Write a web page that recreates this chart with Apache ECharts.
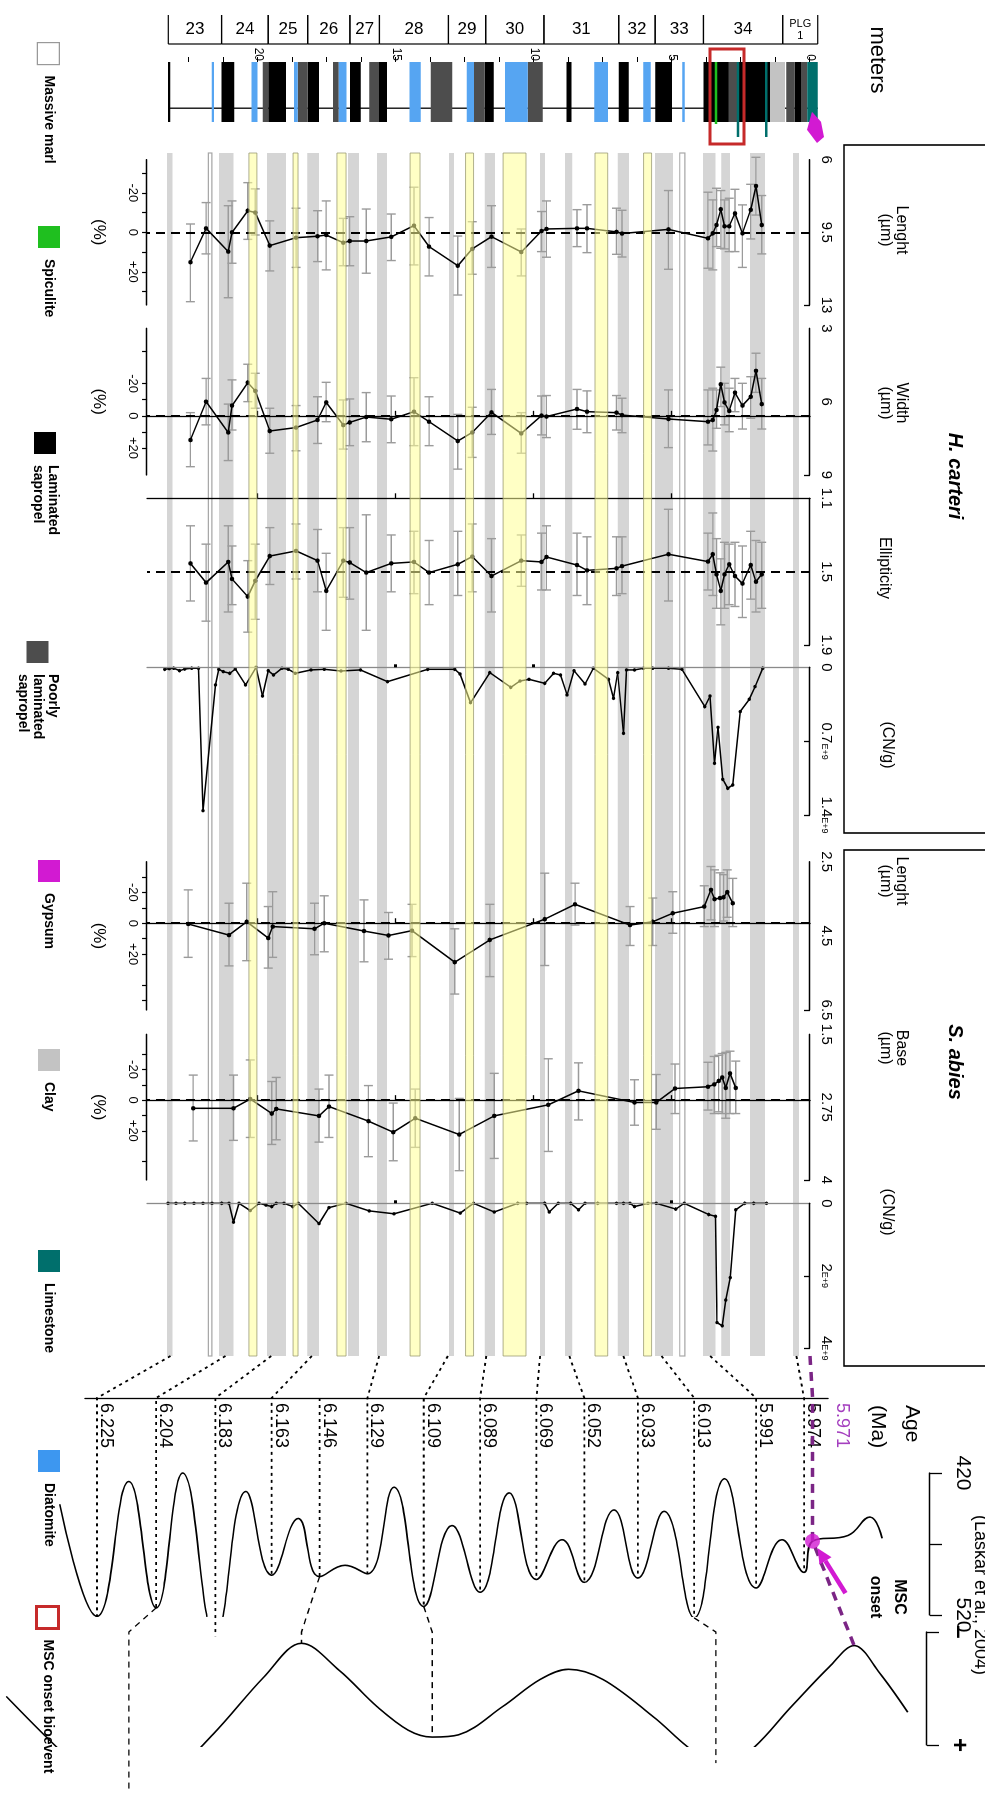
<!DOCTYPE html>
<html>
<head>
<meta charset="utf-8">
<title>H. carteri and S. abies through the pre-MSC succession</title>
<script src="https://cdn.jsdelivr.net/npm/echarts@6/dist/echarts.min.js"></script>
<style>
html, body { margin: 0; padding: 0; background: #fff; }
body { width: 985px; height: 1798px; overflow: hidden; position: relative; }
/* the log is laid out with depth running down the page, then turned a quarter turn */
#chart { position: absolute; left: 0; top: 0; width: 1798px; height: 985px;
         transform-origin: 0 0; transform: translate(985px, 0) rotate(90deg); }
</style>
</head>
<body>
<div id="chart"></div>
<script>
// ---------------- lithological log (depth in metres) ----------------
const CYCLE_NAMES = ['23', '24', '25', '26', '27', '28', '29', '30', '31', '32', '33', '34', 'PLG\n1'];
const CYCLE_BOUNDS = [23.25, 21.32, 19.63, 18.20, 16.67, 15.60, 13.10, 11.75, 9.64, 6.93, 5.61, 3.86, 0.99, -0.28];
const DEPTH_TICKS = [0, 1.25, 2.5, 3.75, 5, 6.25, 7.5, 8.75, 10, 11.25, 12.5, 13.75, 15, 16.25, 17.5, 18.75, 20, 21.25, 22.5];
const DEPTH_LABELS = [0, 5, 10, 15, 20];
const PANEL_DEPTH_TICKS = [5, 10, 15, 20];

const MASSIVE_MARL = [[-0.28, 23.26]];
const LAMINATED_SAPROPEL = [[23.18, 23.26], [20.86, 21.32], [18.99, 19.63], [17.79, 18.20], [16.28, 16.67], [15.33, 15.62],
  [11.46, 11.78], [8.64, 8.82], [6.57, 6.93], [5.00, 5.61], [1.45, 3.86], [0.33, 0.56]];
const POORLY_LAMINATED = [[19.63, 19.83], [18.20, 18.56], [17.07, 17.28], [15.62, 15.97], [12.96, 13.74], [11.78, 12.17],
  [9.68, 10.23], [2.61, 2.95], [0.56, 0.86], [0.10, 0.33]];
const DIATOMITE = [[21.59, 21.68], [20.02, 20.24], [18.56, 18.70], [16.79, 17.07], [14.10, 14.51], [12.17, 12.44],
  [10.23, 11.05], [7.32, 7.82], [5.77, 6.04], [4.54, 4.63]];
const CLAY = [[0.91, 1.45]];
const LIMESTONE = [[2.56, 2.65], [1.54, 1.63], [-0.28, 0.10]];
const SPICULITE = [[3.36, 3.45]];
const GYPSUM = [[-0.51, 0.11]];
const MSC_ONSET_INTERVAL = [[2.39, 3.62]];

// sapropel / diatomite correlation bands across the panels
const GRAY_BANDS = [[23.10, 23.30], [20.89, 21.41], [18.99, 19.67], [17.79, 18.22], [16.34, 16.74], [15.33, 15.69],
  [12.90, 13.08], [11.41, 11.78], [9.60, 9.78], [8.61, 8.88], [6.56, 6.97], [4.96, 5.62], [3.42, 3.88],
  [2.90, 3.22], [1.63, 2.17], [0.40, 0.62]];
const YELLOW_BANDS = [[20.04, 20.33], [18.55, 18.73], [16.81, 17.14], [14.13, 14.49], [12.19, 12.48], [10.29, 11.12],
  [7.33, 7.79], [5.74, 6.03]];
const THIN_BANDS = [[21.67, 21.80], [4.53, 4.72]];

// ---------------- H. carteri ----------------
const H_DEPTH = [22.45, 21.88, 21.08, 20.94, 20.37, 20.10, 19.57, 18.62, 17.84, 17.53, 16.91, 16.68, 16.08, 15.17,
  14.35, 13.80, 12.76, 12.24, 11.54, 10.46, 9.73, 9.55, 8.44, 8.08, 7.01, 6.81, 5.13, 3.70, 3.52, 3.39, 3.23,
  3.10, 2.93, 2.72, 2.45, 2.15, 1.96, 1.75];
const H_LENGTH = [10.94, 9.31, 10.43, 9.50, 8.46, 8.55, 10.14, 9.76, 9.69, 9.63, 10.00, 9.92, 9.92, 9.72, 9.18, 10.19,
  11.11, 10.30, 9.71, 10.45, 9.44, 9.34, 9.31, 9.31, 9.48, 9.56, 9.36, 9.79, 9.55, 9.15, 8.39, 9.21, 9.21, 8.59,
  9.55, 8.42, 7.27, 9.15];
const H_LENGTH_LO = [9.10, 8.07, 8.22, 7.99, 7.11, 7.41, 8.95, 8.34, 8.46, 7.99, 8.83, 8.75, 8.38, 8.62, 7.33, 8.79,
  9.68, 8.99, 8.22, 9.34, 8.50, 7.99, 8.41, 8.17, 8.34, 8.44, 7.49, 7.57, 7.94, 7.38, 7.49, 7.94, 7.86, 7.43,
  8.18, 7.19, 5.89, 7.73];
const H_LENGTH_HI = [12.84, 10.54, 12.65, 10.99, 9.84, 9.63, 11.36, 11.19, 10.91, 11.31, 11.11, 11.11, 11.47, 10.86,
  11.07, 11.60, 12.52, 11.52, 11.19, 11.60, 10.43, 10.70, 10.19, 10.48, 10.56, 10.69, 11.28, 11.23, 11.31, 10.19,
  10.27, 10.30, 10.43, 10.43, 11.19, 9.82, 8.67, 10.54];
const H_LENGTH_MEAN = 9.5;

const H_WIDTH = [7.57, 6.00, 7.26, 6.16, 5.22, 5.56, 7.20, 7.06, 6.75, 6.03, 6.96, 6.85, 6.63, 6.72, 6.41, 6.82, 7.61,
  7.26, 6.44, 7.30, 6.57, 6.61, 6.30, 6.41, 6.45, 6.55, 6.71, 6.82, 6.75, 6.34, 5.29, 6.03, 6.38, 5.63, 6.16, 5.80,
  4.74, 6.10];
const H_WIDTH_LO = [6.45, 5.05, 6.10, 5.11, 4.47, 4.84, 6.27, 6.16, 5.80, 5.21, 5.93, 5.89, 5.63, 5.77, 5.02, 5.80,
  6.52, 6.23, 5.50, 6.45, 5.77, 5.75, 5.50, 5.56, 5.75, 5.86, 5.52, 5.52, 5.45, 5.52, 4.59, 5.25, 5.45, 5.05, 5.25,
  4.98, 4.02, 5.05];
const H_WIDTH_HI = [8.66, 6.95, 8.41, 7.16, 6.00, 6.27, 8.11, 8.01, 7.71, 6.82, 7.94, 7.80, 7.64, 7.68, 7.80, 7.80,
  8.76, 8.28, 7.34, 8.11, 7.36, 7.47, 7.13, 7.27, 7.16, 7.27, 7.88, 7.77, 8.02, 7.09, 6.20, 6.95, 7.23, 6.41, 7.12,
  6.68, 5.62, 7.12];
const H_WIDTH_MEAN = 6.58;

const H_ELLIPTICITY = [1.455, 1.56, 1.447, 1.54, 1.636, 1.55, 1.415, 1.387, 1.44, 1.605, 1.44, 1.45, 1.505, 1.455,
  1.447, 1.505, 1.46, 1.418, 1.524, 1.44, 1.447, 1.42, 1.464, 1.493, 1.482, 1.47, 1.405, 1.445, 1.405, 1.515, 1.605,
  1.515, 1.46, 1.524, 1.565, 1.464, 1.555, 1.515];
const H_ELLIPTICITY_LO = [1.25, 1.35, 1.25, 1.36, 1.44, 1.35, 1.26, 1.24, 1.27, 1.40, 1.26, 1.26, 1.19, 1.30, 1.28,
  1.33, 1.28, 1.24, 1.32, 1.30, 1.29, 1.25, 1.29, 1.31, 1.31, 1.31, 1.16, 1.29, 1.18, 1.32, 1.43, 1.34, 1.35, 1.34,
  1.36, 1.28, 1.33, 1.34];
const H_ELLIPTICITY_HI = [1.66, 1.77, 1.72, 1.68, 1.83, 1.76, 1.57, 1.54, 1.61, 1.82, 1.64, 1.65, 1.82, 1.61, 1.62,
  1.68, 1.63, 1.61, 1.72, 1.58, 1.60, 1.60, 1.63, 1.68, 1.63, 1.62, 1.66, 1.60, 1.63, 1.70, 1.79, 1.70, 1.68, 1.69,
  1.75, 1.65, 1.72, 1.70];
const H_ELLIPTICITY_MEAN = 1.5;

// coccoliths per gram, in units of 1E+9
const H_CN_DEPTH = [23.38, 23.22, 23.05, 22.84, 22.65, 22.40, 22.16, 21.99, 21.54, 21.42, 21.26, 21.02, 20.82, 20.45,
  20.07, 19.84, 19.63, 19.44, 19.13, 18.90, 18.65, 18.08, 17.60, 16.99, 16.29, 15.31, 13.85, 12.87, 12.68, 12.30,
  11.60, 10.84, 10.51, 10.18, 9.61, 9.29, 9.04, 8.80, 8.55, 8.15, 7.85, 7.30, 7.12, 6.97, 6.76, 6.65, 6.36, 6.03,
  5.70, 5.13, 4.64, 3.81, 3.62, 3.46, 3.33, 3.16, 2.98, 2.80, 2.53, 2.20, 1.99, 1.71];
const H_CN = [0.019, 0.013, 0.009, 0.032, 0.016, 0.009, 0.009, 1.359, 0.167, 0.019, 0.041, 0.057, 0.016, 0.167, 0.000,
  0.272, 0.032, 0.073, 0.009, 0.019, 0.057, 0.025, 0.019, 0.035, 0.025, 0.136, 0.019, 0.019, 0.063, 0.335, 0.051,
  0.190, 0.130, 0.114, 0.152, 0.057, 0.073, 0.262, 0.032, 0.158, 0.009, 0.114, 0.294, 0.051, 0.626, 0.025, 0.025,
  0.009, 0.009, 0.009, 0.019, 0.373, 0.272, 0.910, 0.569, 1.062, 1.147, 1.115, 0.420, 0.303, 0.183, 0.009];

// ---------------- S. abies ----------------
const S_LENGTH_DEPTH = [22.53, 21.05, 20.41, 19.63, 19.47, 17.95, 17.60, 16.16, 15.27, 14.42, 12.87, 11.60, 9.61,
  8.51, 6.52, 5.70, 4.97, 3.83, 3.59, 3.46, 3.26, 3.13, 3.00, 2.80];
const S_LENGTH = [4.18, 4.48, 4.12, 4.56, 4.25, 4.31, 4.16, 4.37, 4.49, 4.36, 5.21, 4.61, 4.05, 3.65, 4.21, 4.12, 3.89,
  3.71, 3.26, 3.51, 3.48, 3.46, 3.32, 3.62];
const S_LENGTH_LO = [3.26, 3.62, 3.08, 3.71, 3.31, 3.62, 3.42, 3.53, 3.87, 3.65, 4.31, 3.65, 2.81, 3.08, 3.71, 3.48,
  3.31, 3.15, 2.63, 2.72, 2.80, 2.85, 2.72, 2.95];
const S_LENGTH_HI = [5.08, 5.31, 5.17, 5.37, 5.08, 5.01, 4.93, 5.20, 5.13, 5.06, 6.07, 5.60, 5.30, 4.21, 4.76, 4.76,
  4.43, 4.25, 4.07, 4.25, 4.15, 4.10, 4.00, 4.25];
const S_LENGTH_MEAN = 4.16;

const S_BASE_DEPTH = [22.35, 20.89, 20.28, 19.50, 19.34, 17.79, 17.43, 16.00, 15.10, 14.30, 12.71, 11.44, 9.48, 8.39,
  6.36, 5.57, 4.89, 3.70, 3.47, 3.31, 3.18, 3.05, 2.90, 2.69];
const S_BASE = [2.77, 2.77, 2.61, 2.86, 2.78, 2.90, 2.74, 2.99, 3.18, 2.94, 3.22, 2.90, 2.71, 2.47, 2.67, 2.67, 2.43,
  2.40, 2.36, 2.30, 2.24, 2.42, 2.17, 2.42];
const S_BASE_LO = [2.20, 2.20, 1.94, 2.31, 2.24, 2.44, 2.20, 2.38, 2.68, 2.44, 2.60, 2.17, 1.92, 1.99, 2.28, 2.19,
  2.01, 1.98, 1.88, 1.86, 1.83, 1.81, 1.79, 1.96];
const S_BASE_HI = [3.33, 3.32, 3.27, 3.39, 3.31, 3.35, 3.27, 3.60, 3.67, 3.44, 3.84, 3.63, 3.51, 2.97, 3.06, 3.13,
  2.86, 2.80, 2.86, 2.83, 2.86, 2.94, 2.86, 2.86];
const S_BASE_MEAN = 2.63;

const S_CN_DEPTH = [23.26, 22.97, 22.65, 22.32, 21.99, 21.67, 21.31, 21.05, 20.89, 20.69, 20.28, 19.96, 19.71, 19.50,
  19.34, 19.06, 18.74, 18.54, 17.79, 17.43, 16.81, 15.97, 15.07, 13.69, 12.67, 12.19, 11.44, 10.59, 10.27, 9.61,
  9.45, 9.12, 8.67, 8.39, 8.15, 7.69, 7.01, 6.76, 6.52, 6.36, 5.87, 5.57, 4.86, 4.56, 3.67, 3.42, 3.37, 3.18, 3.05,
  2.89, 2.69, 2.36, 2.04, 1.58];
const S_CN = [0, 0, 0, 0, 0, 0, 0, 0, 0.52, 0, 0.20, 0, 0.05, 0.09, 0, 0, 0.09, 0, 0.56, 0.12, 0, 0.21, 0.29, 0, 0.27,
  0, 0.24, 0, 0, 0, 0.24, 0, 0, 0.18, 0, 0, 0, 0, 0, 0.09, 0, 0, 0.16, 0, 0.31, 0.36, 3.29, 3.38, 2.67, 2.05, 0.18,
  0, 0, 0];

// ---------------- astronomical tuning ----------------
const TIE_AGES = [6.225, 6.204, 6.183, 6.163, 6.146, 6.129, 6.109, 6.089, 6.069, 6.052, 6.033, 6.013, 5.991, 5.974, 5.971];
const TIE_DEPTHS = [23.17, 21.18, 19.52, 18.05, null, 15.61, 13.12, 11.73, 9.78, 8.72, 6.76, 5.38, 3.62, 0.49, 0.0];
const MSC_ONSET_AGE = 5.971;
const MSC_ONSET_INSOLATION = 468;

// summer insolation 65°N, W/m2 (Laskar et al., 2004)
const INSOL_AGE = [6.2382, 6.225, 6.2137, 6.204, 6.1946, 6.183, 6.1721, 6.163, 6.1536, 6.146, 6.137, 6.129, 6.1196,
  6.109, 6.099, 6.089, 6.0787, 6.069, 6.0599, 6.052, 6.0415, 6.033, 6.0237, 6.013, 6.0022, 5.991, 5.9818, 5.974,
  5.971, 5.9584, 5.9506, 5.9463];
const INSOL = [442, 521, 426, 515, 420, 535, 433, 492, 452, 493, 485, 491, 430, 514, 457, 504, 434, 495, 467, 497, 446,
  494, 447, 522, 424, 501, 467, 490, 468, 464, 451, 466];
// eccentricity, relative units (− to +)
const ECC_AGE = [6.2572, 6.2371, 6.2238, 6.2137, 6.2015, 6.1836, 6.1658, 6.1524, 6.139, 6.1256, 6.1145, 6.106, 6.0967,
  6.081, 6.0677, 6.0576, 6.0454, 6.0275, 6.0141, 6.0053, 5.9941, 5.9785, 5.9651, 5.9562, 5.9473, 5.9372];
const ECC = [57, 107, 134, 140, 132, 90, 40, 10, 34, 66, 87, 93, 91, 66, 42, 33, 42, 75, 104, 116, 107, 66, 31, 12, 36, 71];
const INSOL_ECC_LINKS = [[6.204, 6.2137], [6.146, 6.1524], [6.109, 6.106], [6.013, 6.0053]];
const MSC_ECC_AGE = 5.9562;

// ---------------- drawing ----------------
const W = 1798, H = 985;
const FONT = '"Liberation Sans", Arial, Helvetica, sans-serif';
const NARROW = '"Liberation Sans Narrow", "Arial Narrow", "Liberation Sans", Arial, sans-serif';
const DEPTH_V0 = 175, PX_PER_M = 27.6, PANEL_DMAX = 24.02;
const AGE_REF = 6.225, AGE_REF_V = 888, AGE_PX = 2817;
const ageAtV = v => AGE_REF + (v - AGE_REF_V) / AGE_PX;
const PURPLE = '#7b2585', MAGENTA = '#d21ad2';

const chart = echarts.init(document.getElementById('chart'), null, { width: W, height: H, renderer: 'canvas' });
const grid = [], xAxis = [], yAxis = [], series = [];
function addGrid(left, top, width, height) {
  grid.push({ left, top, width, height, outerBoundsMode: 'none', containLabel: false });
  return grid.length - 1;
}
function depthGrid(left, width, dmin, dmax) {
  return addGrid(left, DEPTH_V0 + dmin * PX_PER_M, width, (dmax - dmin) * PX_PER_M);
}
function hidden(extra) {
  return Object.assign({ type: 'value', axisLine: { show: false }, axisTick: { show: false },
    axisLabel: { show: false }, splitLine: { show: false }, z: 6 }, extra);
}
function addX(o) { xAxis.push(o); return xAxis.length - 1; }
function addY(o) { yAxis.push(o); return yAxis.length - 1; }

// --- cycle numbers above the column
const gCyc = depthGrid(15, 29, -1.25, 23.75);
const xCyc = addX(hidden({ gridIndex: gCyc, min: 0, max: 1 }));
const yCyc = addY(hidden({ gridIndex: gCyc, min: -1.25, max: 23.75, inverse: true }));
series.push({
  type: 'custom', xAxisIndex: xCyc, yAxisIndex: yCyc, clip: false, z: 3, silent: true,
  data: CYCLE_NAMES.map((n, i) => [0, CYCLE_BOUNDS[i], CYCLE_BOUNDS[i + 1], i]),
  encode: { x: 0, y: [1, 2] },
  renderItem(p, api) {
    const cs = p.coordSys;
    const a = api.coord([0, api.value(1)])[1], b = api.coord([0, api.value(2)])[1];
    const name = CYCLE_NAMES[api.value(3)];
    const x2 = cs.x + cs.width, st = { stroke: '#000', lineWidth: 1.2 };
    const small = name.indexOf('\n') >= 0;
    return { type: 'group', children: [
      { type: 'line', shape: { x1: cs.x, y1: a, x2: x2, y2: a }, style: st },
      { type: 'line', shape: { x1: cs.x, y1: b, x2: x2, y2: b }, style: st },
      { type: 'line', shape: { x1: x2, y1: a, x2: x2, y2: b }, style: st },
      { type: 'text', x: cs.x + cs.width / 2, y: (a + b) / 2, rotation: Math.PI / 2,
        style: { text: name, fontSize: small ? 11 : 17, lineHeight: small ? 12 : 18, fontFamily: FONT, fill: '#000',
                 align: 'center', verticalAlign: 'middle' } }
    ] };
  }
});

// --- lithological column
const gLit = depthGrid(62, 60, -1.25, 23.75);
const xLit = addX(hidden({ gridIndex: gLit, min: 0, max: 1 }));
const yLit = addY({
  gridIndex: gLit, type: 'value', min: -1.25, max: 23.75, inverse: true, position: 'left', z: 6,
  axisLine: { show: false },
  axisTick: { show: true, customValues: DEPTH_TICKS, length: 5, lineStyle: { color: '#000', width: 1 } },
  axisLabel: { show: true, customValues: DEPTH_LABELS, margin: 1, fontSize: 12, fontFamily: FONT, color: '#000' },
  splitLine: { show: false }
});
function lithoSeries(name, beds, fill, z, extend) {
  return {
    type: 'custom', name, xAxisIndex: xLit, yAxisIndex: yLit, clip: false, z, silent: true,
    itemStyle: { color: fill },
    data: beds.map(b => [0, b[0], b[1]]), encode: { x: 0, y: [1, 2] },
    renderItem(p, api) {
      const cs = p.coordSys;
      const y1 = api.coord([0, api.value(1)])[1], y2 = api.coord([0, api.value(2)])[1];
      const h = Math.max(y2 - y1, 1.5);
      const ext = (extend && h < 4) ? extend : 0;
      return { type: 'rect', shape: { x: cs.x, y: y1, width: cs.width + ext, height: h }, style: { fill } };
    }
  };
}
series.push({
  type: 'custom', name: 'Massive marl', xAxisIndex: xLit, yAxisIndex: yLit, clip: false, z: 1, silent: true,
  itemStyle: { color: '#fff' },
  data: MASSIVE_MARL.map(b => [0, b[0], b[1]]), encode: { x: 0, y: [1, 2] },
  renderItem(p, api) {
    const cs = p.coordSys;
    const y1 = api.coord([0, api.value(1)])[1], y2 = api.coord([0, api.value(2)])[1];
    const xl = cs.x + cs.width * 0.77;
    return { type: 'group', children: [
      { type: 'rect', shape: { x: cs.x, y: y1, width: cs.width, height: y2 - y1 }, style: { fill: '#fff' } },
      { type: 'line', shape: { x1: xl, y1: y1, x2: xl, y2: y2 }, style: { stroke: '#000', lineWidth: 1.3 } }
    ] };
  }
});
series.push(lithoSeries('Laminated\nsapropel', LAMINATED_SAPROPEL, '#000000', 2));
series.push(lithoSeries('Poorly\nlaminated\nsapropel', POORLY_LAMINATED, '#4d4d4d', 3));
series.push(lithoSeries('Diatomite', DIATOMITE, '#56a5f2', 3));
series.push(lithoSeries('Clay', CLAY, '#c3c3c3', 3));
series.push(lithoSeries('Limestone', LIMESTONE, '#006f6c', 4, 15));
series.push(lithoSeries('Spiculite', SPICULITE, '#1fbf1f', 4, 2));
series.push({
  type: 'custom', name: 'Gypsum', xAxisIndex: xLit, yAxisIndex: yLit, clip: false, z: 4, silent: true,
  itemStyle: { color: MAGENTA },
  data: GYPSUM.map(b => [0, b[0], b[1]]), encode: { x: 0, y: [1, 2] },
  renderItem(p, api) {
    const cs = p.coordSys;
    const y1 = api.coord([0, api.value(1)])[1], y2 = api.coord([0, api.value(2)])[1];
    const xa = cs.x + cs.width * 0.83, xb = cs.x + cs.width * 1.35;
    return { type: 'polygon', shape: { points: [[xa, y2 - 5], [xa + 18, y2], [xb, y1 + 7], [xb - 6, y1], [xa + 10, y1 + 3]] },
             style: { fill: MAGENTA } };
  }
});
series.push({
  type: 'custom', name: 'MSC onset bioevent', xAxisIndex: xLit, yAxisIndex: yLit, clip: false, z: 5, silent: true,
  itemStyle: { color: '#fff', borderColor: '#c62a2a' },
  data: MSC_ONSET_INTERVAL.map(b => [0, b[0], b[1]]), encode: { x: 0, y: [1, 2] },
  renderItem(p, api) {
    const cs = p.coordSys;
    const y1 = api.coord([0, api.value(1)])[1], y2 = api.coord([0, api.value(2)])[1];
    return { type: 'rect', shape: { x: cs.x - 13, y: y1, width: cs.width + 35, height: y2 - y1 },
             style: { fill: 'none', stroke: '#c62a2a', lineWidth: 3 } };
  }
});

// --- correlation bands behind all panels
const gBand = depthGrid(153, 1203, 0, PANEL_DMAX);
const xBand = addX(hidden({ gridIndex: gBand, min: 0, max: 1 }));
const yBand = addY(hidden({ gridIndex: gBand, min: 0, max: PANEL_DMAX, inverse: true }));
function bandSeries(bands, style, z) {
  return {
    type: 'custom', xAxisIndex: xBand, yAxisIndex: yBand, clip: false, z, silent: true,
    data: bands.map(b => [0, b[0], b[1]]), encode: { x: 0, y: [1, 2] },
    renderItem(p, api) {
      const cs = p.coordSys;
      const y1 = api.coord([0, api.value(1)])[1], y2 = api.coord([0, api.value(2)])[1];
      return { type: 'rect', shape: { x: cs.x, y: y1, width: cs.width, height: y2 - y1 }, style };
    }
  };
}
series.push(bandSeries(GRAY_BANDS, { fill: '#d5d5d5' }, 1));
series.push(bandSeries(THIN_BANDS, { fill: 'none', stroke: '#a8a8a8', lineWidth: 1.2 }, 1));
series.push(bandSeries(YELLOW_BANDS, { fill: 'rgba(255,255,150,0.55)', stroke: 'rgba(150,150,110,0.75)', lineWidth: 1 }, 8));

// --- data panels
const pctFmt = v => (v > 0 ? '+' + v : String(v));
const cnFmt = v => (v === 0 ? '0' : '{a|' + v + '}{b|E+9}');
const cnRich = { a: { fontSize: 15, fontFamily: FONT }, b: { fontSize: 9, fontFamily: FONT, padding: [5, 0, 0, 0] } };

function panel(cfg) {
  const g = depthGrid(cfg.left, cfg.width, 0, PANEL_DMAX);
  const xv = addX({
    gridIndex: g, type: 'value', position: 'top', min: cfg.min, max: cfg.max, z: 6,
    axisLine: { show: true, lineStyle: { color: '#000', width: 1.3 } },
    axisTick: { show: true, inside: true, length: 6, customValues: cfg.ticks, lineStyle: { color: '#000', width: 1.3 } },
    axisLabel: { show: true, customValues: cfg.labels, formatter: cfg.fmt, rich: cfg.rich, margin: 9,
                 fontSize: 15, fontFamily: FONT, color: '#000' },
    splitLine: { show: false }
  });
  if (cfg.mean != null && cfg.pctTicks) {
    const pct = v => (v - cfg.mean) / cfg.mean * 100;
    addX({
      gridIndex: g, type: 'value', position: 'bottom', min: pct(cfg.min), max: pct(cfg.max), z: 6,
      axisLine: { show: true, lineStyle: { color: '#000', width: 1.3 } },
      axisTick: { show: true, customValues: cfg.pctTicks, length: 5, lineStyle: { color: '#000', width: 1.2 } },
      axisLabel: { show: true, customValues: cfg.pctLabels, formatter: pctFmt, margin: 8, fontSize: 13,
                   fontFamily: FONT, color: '#000' },
      splitLine: { show: false },
      name: '(%)', nameLocation: 'middle', nameGap: 40,
      nameTextStyle: { fontSize: 17, fontFamily: FONT, color: '#000' }
    });
  }
  const y = addY({
    gridIndex: g, type: 'value', min: 0, max: PANEL_DMAX, inverse: true, position: 'left', z: 6,
    axisLine: { show: !!cfg.sep, lineStyle: { color: cfg.sep || '#000', width: 1.3 } },
    axisTick: { show: !!cfg.sep, customValues: cfg.sepTicks || PANEL_DEPTH_TICKS, length: cfg.sepTickLen || 5,
                lineStyle: { color: '#000', width: cfg.sepTickWidth || 1.3 } },
    axisLabel: { show: false }, splitLine: { show: false }
  });
  if (cfg.lo) {
    series.push({
      type: 'custom', xAxisIndex: xv, yAxisIndex: y, clip: false, z: 2, silent: true,
      data: cfg.depth.map((d, i) => [cfg.lo[i], cfg.hi[i], d]), encode: { x: [0, 1], y: 2 },
      renderItem(p, api) {
        const a = api.coord([api.value(0), api.value(2)]), b = api.coord([api.value(1), api.value(2)]);
        const st = { stroke: '#9b9b9b', lineWidth: 1.4 }, c = 4.5;
        return { type: 'group', children: [
          { type: 'line', shape: { x1: a[0], y1: a[1], x2: b[0], y2: b[1] }, style: st },
          { type: 'line', shape: { x1: a[0], y1: a[1] - c, x2: a[0], y2: a[1] + c }, style: st },
          { type: 'line', shape: { x1: b[0], y1: b[1] - c, x2: b[0], y2: b[1] + c }, style: st }
        ] };
      }
    });
  }
  const line = {
    type: 'line', xAxisIndex: xv, yAxisIndex: y, clip: false, z: 4, silent: true,
    data: cfg.depth.map((d, i) => [cfg.values[i], d]),
    symbol: 'circle', symbolSize: cfg.symbolSize || 4.5, showSymbol: true,
    lineStyle: { color: '#000', width: 1.5 }, itemStyle: { color: '#000' }
  };
  if (cfg.mean != null) {
    line.markLine = { silent: true, symbol: 'none', animation: false, label: { show: false },
      lineStyle: { color: '#000', type: [9, 6], width: 2 }, data: [{ xAxis: cfg.mean }] };
  }
  series.push(line);
}

panel({ left: 159.6, width: 145.4, min: 6, max: 13, labels: [6, 9.5, 13], ticks: [13],
  depth: H_DEPTH, values: H_LENGTH, lo: H_LENGTH_LO, hi: H_LENGTH_HI, mean: H_LENGTH_MEAN,
  pctTicks: [-30, -20, -10, 0, 10, 20, 30], pctLabels: [-20, 0, 20] });
panel({ left: 328.3, width: 146.7, min: 3, max: 9, labels: [3, 6, 9], ticks: [9], sep: '#000',
  depth: H_DEPTH, values: H_WIDTH, lo: H_WIDTH_LO, hi: H_WIDTH_HI, mean: H_WIDTH_MEAN,
  pctTicks: [-40, -30, -20, -10, 0, 10, 20, 30, 40], pctLabels: [-30, -20, 0, 20, 30] });
panel({ left: 498.3, width: 146.7, min: 1.1, max: 1.9, labels: [1.1, 1.5, 1.9], ticks: [1.9], sep: '#000',
  depth: H_DEPTH, values: H_ELLIPTICITY, lo: H_ELLIPTICITY_LO, hi: H_ELLIPTICITY_HI, mean: H_ELLIPTICITY_MEAN });
panel({ left: 667.3, width: 147.7, min: 0, max: 1.4, labels: [0, 0.7, 1.4], ticks: [0.7, 1.4], fmt: cnFmt, rich: cnRich,
  sep: '#8a8a8a', sepTicks: [10, 15], sepTickLen: 3, sepTickWidth: 3,
  depth: H_CN_DEPTH, values: H_CN, symbolSize: 3.5 });
panel({ left: 861.7, width: 148.3, min: 2.5, max: 6.5, labels: [2.5, 4.5, 6.5], ticks: [6.5], sep: '#000',
  depth: S_LENGTH_DEPTH, values: S_LENGTH, lo: S_LENGTH_LO, hi: S_LENGTH_HI, mean: S_LENGTH_MEAN,
  pctTicks: [-30, -20, -10, 0, 10, 20, 30, 40, 50], pctLabels: [-20, 0, 20, 30] });
panel({ left: 1034.3, width: 145.7, min: 1.5, max: 4, labels: [1.5, 2.75, 4], ticks: [4], sep: '#000',
  depth: S_BASE_DEPTH, values: S_BASE, lo: S_BASE_LO, hi: S_BASE_HI, mean: S_BASE_MEAN,
  pctTicks: [-30, -20, -10, 0, 10, 20, 30, 40], pctLabels: [-20, 0, 20, 30] });
panel({ left: 1203.3, width: 145, min: 0, max: 4, labels: [0, 2, 4], ticks: [2, 4], fmt: cnFmt, rich: cnRich,
  sep: '#8a8a8a', sepTicks: [5, 15], sepTickLen: 3, sepTickWidth: 3,
  depth: S_CN_DEPTH, values: S_CN, symbolSize: 3.5 });

// --- age scale
const gAge = addGrid(1398, 157, 20, 743);
const xAge = addX(hidden({ gridIndex: gAge, min: 0, max: 1 }));
const yAge = addY({
  gridIndex: gAge, type: 'value', min: ageAtV(157), max: ageAtV(900), inverse: true, position: 'left', z: 6,
  axisLine: { show: true, lineStyle: { color: '#000', width: 1.3 } }, axisTick: { show: false },
  axisLabel: { show: true, inside: true, customValues: TIE_AGES, margin: 5, verticalAlign: 'bottom',
    formatter: v => (v === MSC_ONSET_AGE ? '{p|' : '{n|') + v.toFixed(3) + '}',
    rich: { n: { fontSize: 18, fontFamily: FONT, color: '#000' },
            p: { fontSize: 18, fontFamily: FONT, color: '#a43fbf', padding: [0, 0, 20, 0] } } },
  splitLine: { show: false }
});

// --- insolation and eccentricity
const gIns = addGrid(1473, 55, 142, 930);
const xIns = addX({
  gridIndex: gIns, type: 'value', position: 'top', min: 420, max: 520, z: 6,
  axisLine: { show: true, lineStyle: { color: '#000', width: 1.3 } },
  axisTick: { show: true, customValues: [420, 470, 520], length: 12, lineStyle: { color: '#000', width: 1.3 } },
  axisLabel: { show: true, customValues: [420, 520], margin: 22, fontSize: 21, fontFamily: FONT, color: '#000' },
  splitLine: { show: false }
});
const yIns = addY(hidden({ gridIndex: gIns, min: ageAtV(55), max: ageAtV(985), inverse: true }));
const gEcc = addGrid(1632, 58, 113, 927);
const xEcc = addX({
  gridIndex: gEcc, type: 'value', position: 'top', min: 0, max: 100, z: 6,
  axisLine: { show: true, lineStyle: { color: '#000', width: 1.3 } },
  axisTick: { show: true, customValues: [0, 100], length: 12, lineStyle: { color: '#000', width: 1.3 } },
  axisLabel: { show: true, customValues: [0, 100], margin: 20, fontSize: 24, fontWeight: 'bold',
               fontFamily: FONT, color: '#000', formatter: v => (v === 0 ? '–' : '+') },
  splitLine: { show: false }
});
const yEcc = addY(hidden({ gridIndex: gEcc, min: ageAtV(58), max: ageAtV(985), inverse: true }));

series.push({
  type: 'line', xAxisIndex: xIns, yAxisIndex: yIns, clip: false, z: 4, silent: true, smooth: 0.45,
  data: INSOL_AGE.map((a, i) => [INSOL[i], a]), symbol: 'none', lineStyle: { color: '#000', width: 1.6 }
});
series.push({
  type: 'line', xAxisIndex: xEcc, yAxisIndex: yEcc, clip: false, z: 4, silent: true, smooth: 0.35,
  data: ECC_AGE.map((a, i) => [ECC[i], a]), symbol: 'none', lineStyle: { color: '#000', width: 1.6 }
});
series.push({
  type: 'scatter', xAxisIndex: xIns, yAxisIndex: yIns, clip: false, z: 9, silent: true,
  data: [[MSC_ONSET_INSOLATION, MSC_ONSET_AGE]], symbolSize: 15, itemStyle: { color: MAGENTA }
});

// --- legend, one block per lithology
const LEGEND_LAYOUT = [
  ['Massive marl', 42, { color: '#fff', borderColor: '#999', borderWidth: 1.2 }],
  ['Spiculite', 226, { color: '#1fbf1f' }],
  ['Laminated\nsapropel', 432, { color: '#000' }],
  ['Poorly\nlaminated\nsapropel', 641, { color: '#4d4d4d' }],
  ['Gypsum', 860, { color: MAGENTA }],
  ['Clay', 1049, { color: '#c3c3c3' }],
  ['Limestone', 1250, { color: '#006f6c' }],
  ['Diatomite', 1450, { color: '#3d97f0' }],
  ['MSC onset bioevent', 1605, { color: '#fff', borderColor: '#c62a2a', borderWidth: 3 }]
];
const legend = LEGEND_LAYOUT.map(([name, left, st]) => ({
  left, top: 925, orient: 'horizontal', itemWidth: 22, itemHeight: 22, itemGap: 0, padding: 0,
  selectedMode: false, data: [{ name, icon: 'rect', itemStyle: st }],
  textStyle: { fontSize: 14, fontWeight: 'bold', fontFamily: FONT, color: '#000', lineHeight: 15, padding: [0, 0, 0, 6] }
}));

// --- static annotations
const T = (x, y, text, o) => ({ type: 'text', x, y, z: 20, silent: true,
  style: Object.assign({ text, fontFamily: FONT, fontSize: 16, fill: '#000', align: 'center', verticalAlign: 'middle' }, o || {}) });
const staticGraphics = [
  T(60, 108, 'meters', { fontSize: 22, fontFamily: NARROW }),
  { type: 'rect', z: 20, silent: true, shape: { x: 145, y: -4, width: 688, height: 145 },
    style: { fill: 'none', stroke: '#000', lineWidth: 1.6 } },
  { type: 'rect', z: 20, silent: true, shape: { x: 850, y: -4, width: 516, height: 145 },
    style: { fill: 'none', stroke: '#000', lineWidth: 1.6 } },
  T(476, 30, 'H. carteri', { fontSize: 20, fontWeight: 'bold', fontStyle: 'italic', fontFamily: NARROW }),
  T(1062, 30, 'S. abies', { fontSize: 20, fontWeight: 'bold', fontStyle: 'italic', fontFamily: NARROW }),
  T(230, 92, 'Lenght\n(µm)', { fontFamily: NARROW, lineHeight: 16 }),
  T(403, 92, 'Width\n(µm)', { fontFamily: NARROW, lineHeight: 16 }),
  T(568, 101, 'Ellipticity', { fontFamily: NARROW }),
  T(745, 98, '(CN/g)', { fontFamily: NARROW }),
  T(881, 92, 'Lenght\n(µm)', { fontFamily: NARROW, lineHeight: 16 }),
  T(1048, 92, 'Base\n(µm)', { fontFamily: NARROW, lineHeight: 16 }),
  T(1212, 98, '(CN/g)', { fontFamily: NARROW }),
  T(1405, 90, 'Age\n(Ma)', { fontSize: 21, lineHeight: 34, align: 'left' }),
  T(1595, 5, '(Laskar et al., 2004)', { fontSize: 18 }),
  T(1597, 98, 'MSC\nonset', { fontSize: 16, fontWeight: 'bold', lineHeight: 24 })
];

chart.setOption({
  animation: false, backgroundColor: '#fff', textStyle: { fontFamily: FONT },
  grid, xAxis, yAxis, series, legend, graphic: staticGraphics
});

// --- tie lines drawn from the chart's own scales
const px = (xi, yi, pt) => chart.convertToPixel({ xAxisIndex: xi, yAxisIndex: yi }, pt);
const extra = [];
const dotted = { stroke: '#000', lineWidth: 1.8, lineDash: [3, 4], fill: null };
TIE_AGES.forEach((age, i) => {
  const pts = [];
  const d = TIE_DEPTHS[i];
  if (d != null) pts.push(px(xBand, yBand, [1, d]));
  pts.push(px(xAge, yAge, [0, age]));
  if (age === MSC_ONSET_AGE) return;
  const k = INSOL_AGE.indexOf(age);
  if (k >= 0) pts.push(px(xIns, yIns, [INSOL[k], age]));
  extra.push({ type: 'polyline', z: 7, silent: true, shape: { points: pts }, style: dotted });
});
INSOL_ECC_LINKS.forEach(([a1, a2]) => {
  const k1 = INSOL_AGE.indexOf(a1), k2 = ECC_AGE.indexOf(a2);
  const p1 = px(xIns, yIns, [INSOL[k1], a1]);
  const p2 = px(xEcc, yEcc, [0, a2]);
  const p3 = px(xEcc, yEcc, [ECC[k2], a2]);
  extra.push({ type: 'polyline', z: 7, silent: true, shape: { points: [p1, p2, p3] },
               style: { stroke: '#000', lineWidth: 1.4, lineDash: [6, 5], fill: null } });
});
// MSC onset: from the base of the sapropel record to the insolation cycle and the eccentricity maximum
{
  const i = TIE_AGES.indexOf(MSC_ONSET_AGE);
  const p0 = px(xBand, yBand, [1, TIE_DEPTHS[i]]);
  const p1 = px(xAge, yAge, [0, MSC_ONSET_AGE]);
  const p2 = px(xIns, yIns, [MSC_ONSET_INSOLATION, MSC_ONSET_AGE]);
  const k = ECC_AGE.indexOf(MSC_ECC_AGE);
  const p3 = px(xEcc, yEcc, [ECC[k], MSC_ECC_AGE]);
  extra.push({ type: 'polyline', z: 8, silent: true, shape: { points: [p0, p1, p2, p3] },
               style: { stroke: PURPLE, lineWidth: 3.5, lineDash: [9, 7], fill: null } });
  // arrow pointing at the onset
  const tail = [p2[0] + 52, p2[1] - 33], tip = [p2[0] + 7, p2[1] - 5];
  const dx = tip[0] - tail[0], dy = tip[1] - tail[1], L = Math.hypot(dx, dy);
  const ux = dx / L, uy = dy / L, hl = 15, hw = 7;
  const base = [tip[0] - ux * hl, tip[1] - uy * hl];
  extra.push({ type: 'line', z: 9, silent: true, shape: { x1: tail[0], y1: tail[1], x2: base[0], y2: base[1] },
               style: { stroke: MAGENTA, lineWidth: 4.5 } });
  extra.push({ type: 'polygon', z: 9, silent: true,
               shape: { points: [tip, [base[0] - uy * hw, base[1] + ux * hw], [base[0] + uy * hw, base[1] - ux * hw]] },
               style: { fill: MAGENTA } });
}
chart.setOption({ graphic: staticGraphics.concat(extra) });
</script>
</body>
</html>
